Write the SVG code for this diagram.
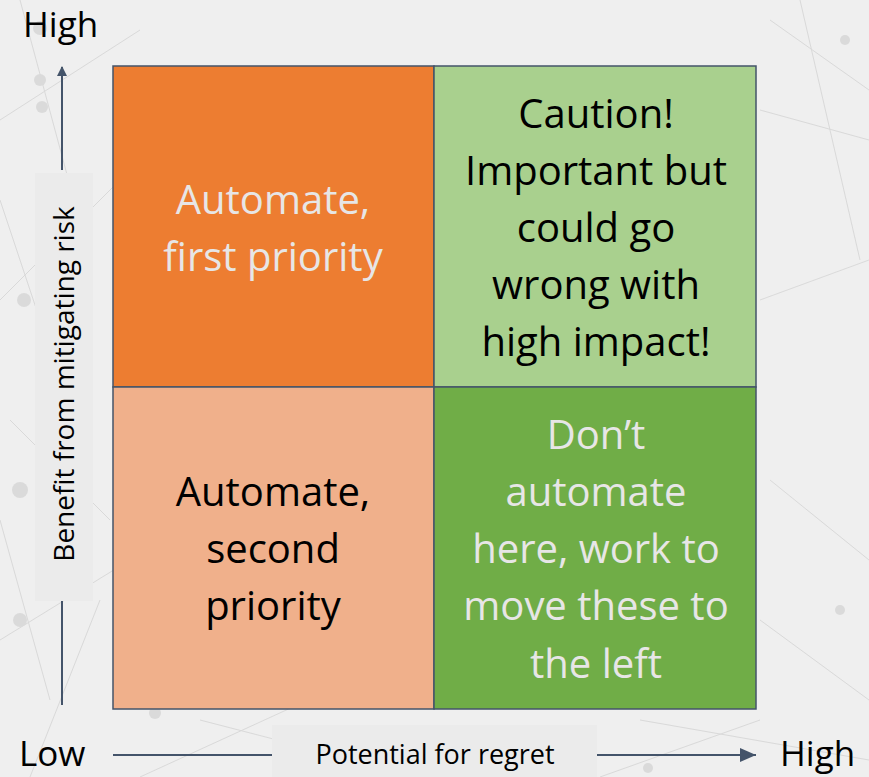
<svg xmlns="http://www.w3.org/2000/svg" width="869" height="777" viewBox="0 0 869 777">
  <defs>
    <marker id="arrow" viewBox="0 0 10 10" refX="9" refY="5" markerWidth="10" markerHeight="10" markerUnits="userSpaceOnUse" orient="auto">
      <path d="M0,0 L10,5 L0,10 Z" fill="#44546a"/>
    </marker>
    <marker id="arrowBig" viewBox="0 0 16 14" refX="16" refY="7" markerWidth="16" markerHeight="14" markerUnits="userSpaceOnUse" orient="auto">
      <path d="M0,0 L16,7 L0,14 Z" fill="#44546a"/>
    </marker>
  </defs>
  <style>
    .txt { font-family: "Open Sans", Lato, "Liberation Sans", sans-serif; }
    .q { font-size: 40px; text-anchor: middle; }
    .light { fill: #e7e6e6; }
    .dark { fill: #000000; }
    .axis { stroke: #44546a; stroke-width: 2; fill: none; }
    .cell { stroke: #44546a; stroke-width: 1.5; }
    .net { stroke: #d4d4d4; stroke-width: 1; fill: none; }
    .dot { fill: #d6d6d6; }
  </style>

  <!-- page background with faint network texture -->
  <rect width="869" height="777" fill="#efefef"/>
  <g id="texture" opacity="0.8">
    <path class="net" d="M0,120 L140,30 M20,0 L90,260 M0,300 L120,180 M10,420 L110,520 M0,640 L130,560 M30,777 L100,600 M140,777 L330,690 M200,720 L420,777 M600,777 L760,720 M640,720 L869,760 M770,20 L869,90 M760,110 L869,140 M800,0 L860,260 M760,300 L869,260 M770,480 L869,560 M760,620 L869,700 M0,200 L60,380 M0,520 L50,700"/>
    <circle class="dot" cx="40" cy="28" r="7"/>
    <circle class="dot" cx="40" cy="80" r="6"/>
    <circle class="dot" cx="42" cy="107" r="6"/>
    <circle class="dot" cx="24" cy="300" r="7"/>
    <circle class="dot" cx="20" cy="490" r="8"/>
    <circle class="dot" cx="20" cy="620" r="7"/>
    <circle class="dot" cx="155" cy="713" r="6"/>
    <circle class="dot" cx="845" cy="40" r="5"/>
    <circle class="dot" cx="840" cy="610" r="5"/>
    <circle class="dot" cx="648" cy="768" r="5"/>
  </g>

  <!-- quadrants -->
  <g id="q-top-left">
    <rect class="cell" x="113" y="66" width="321" height="321" fill="#ed7d31"/>
    <text class="txt q light"><tspan x="273" y="214">Automate,</tspan><tspan x="273" y="271">first priority</tspan></text>
  </g>
  <g id="q-top-right">
    <rect class="cell" x="434" y="66" width="322" height="321" fill="#a9d08e"/>
    <text class="txt q dark"><tspan x="596" y="128">Caution!</tspan><tspan x="596" y="185">Important but</tspan><tspan x="596" y="242">could go</tspan><tspan x="596" y="299">wrong with</tspan><tspan x="596" y="356">high impact!</tspan></text>
  </g>
  <g id="q-bottom-left">
    <rect class="cell" x="113" y="387" width="321" height="322" fill="#f0b08b"/>
    <text class="txt q dark"><tspan x="273" y="506">Automate,</tspan><tspan x="273" y="563">second</tspan><tspan x="273" y="620">priority</tspan></text>
  </g>
  <g id="q-bottom-right">
    <rect class="cell" x="434" y="387" width="322" height="322" fill="#70ad47"/>
    <text class="txt q light"><tspan x="596" y="449">Don’t</tspan><tspan x="596" y="506">automate</tspan><tspan x="596" y="563">here, work to</tspan><tspan x="596" y="620">move these to</tspan><tspan x="596" y="678">the left</tspan></text>
  </g>

  <!-- axes -->
  <g id="connectors">
    <line class="axis" x1="62" y1="705" x2="62" y2="600"/>
    <line class="axis" x1="62" y1="170" x2="62" y2="67" marker-end="url(#arrow)"/>
    <line class="axis" x1="113" y1="755" x2="272" y2="755"/>
    <line class="axis" x1="597" y1="755" x2="756" y2="755" marker-end="url(#arrowBig)"/>
  </g>

  <g id="y-axis-label">
    <rect x="35" y="173" width="58" height="428" fill="#ebebeb"/>
    <text class="txt dark" font-size="28" text-anchor="middle" transform="translate(74,384) rotate(-90)">Benefit from mitigating risk</text>
  </g>
  <g id="x-axis-label">
    <rect x="272" y="725" width="325" height="52" fill="#ebebeb"/>
    <text class="txt dark" x="435" y="764" font-size="27" text-anchor="middle">Potential for regret</text>
  </g>

  <g id="axis-ends">
    <text class="txt dark" x="23" y="37" font-size="35">High</text>
    <text class="txt dark" x="19" y="766" font-size="35">Low</text>
    <text class="txt dark" x="780" y="766" font-size="35">High</text>
  </g>
</svg>
